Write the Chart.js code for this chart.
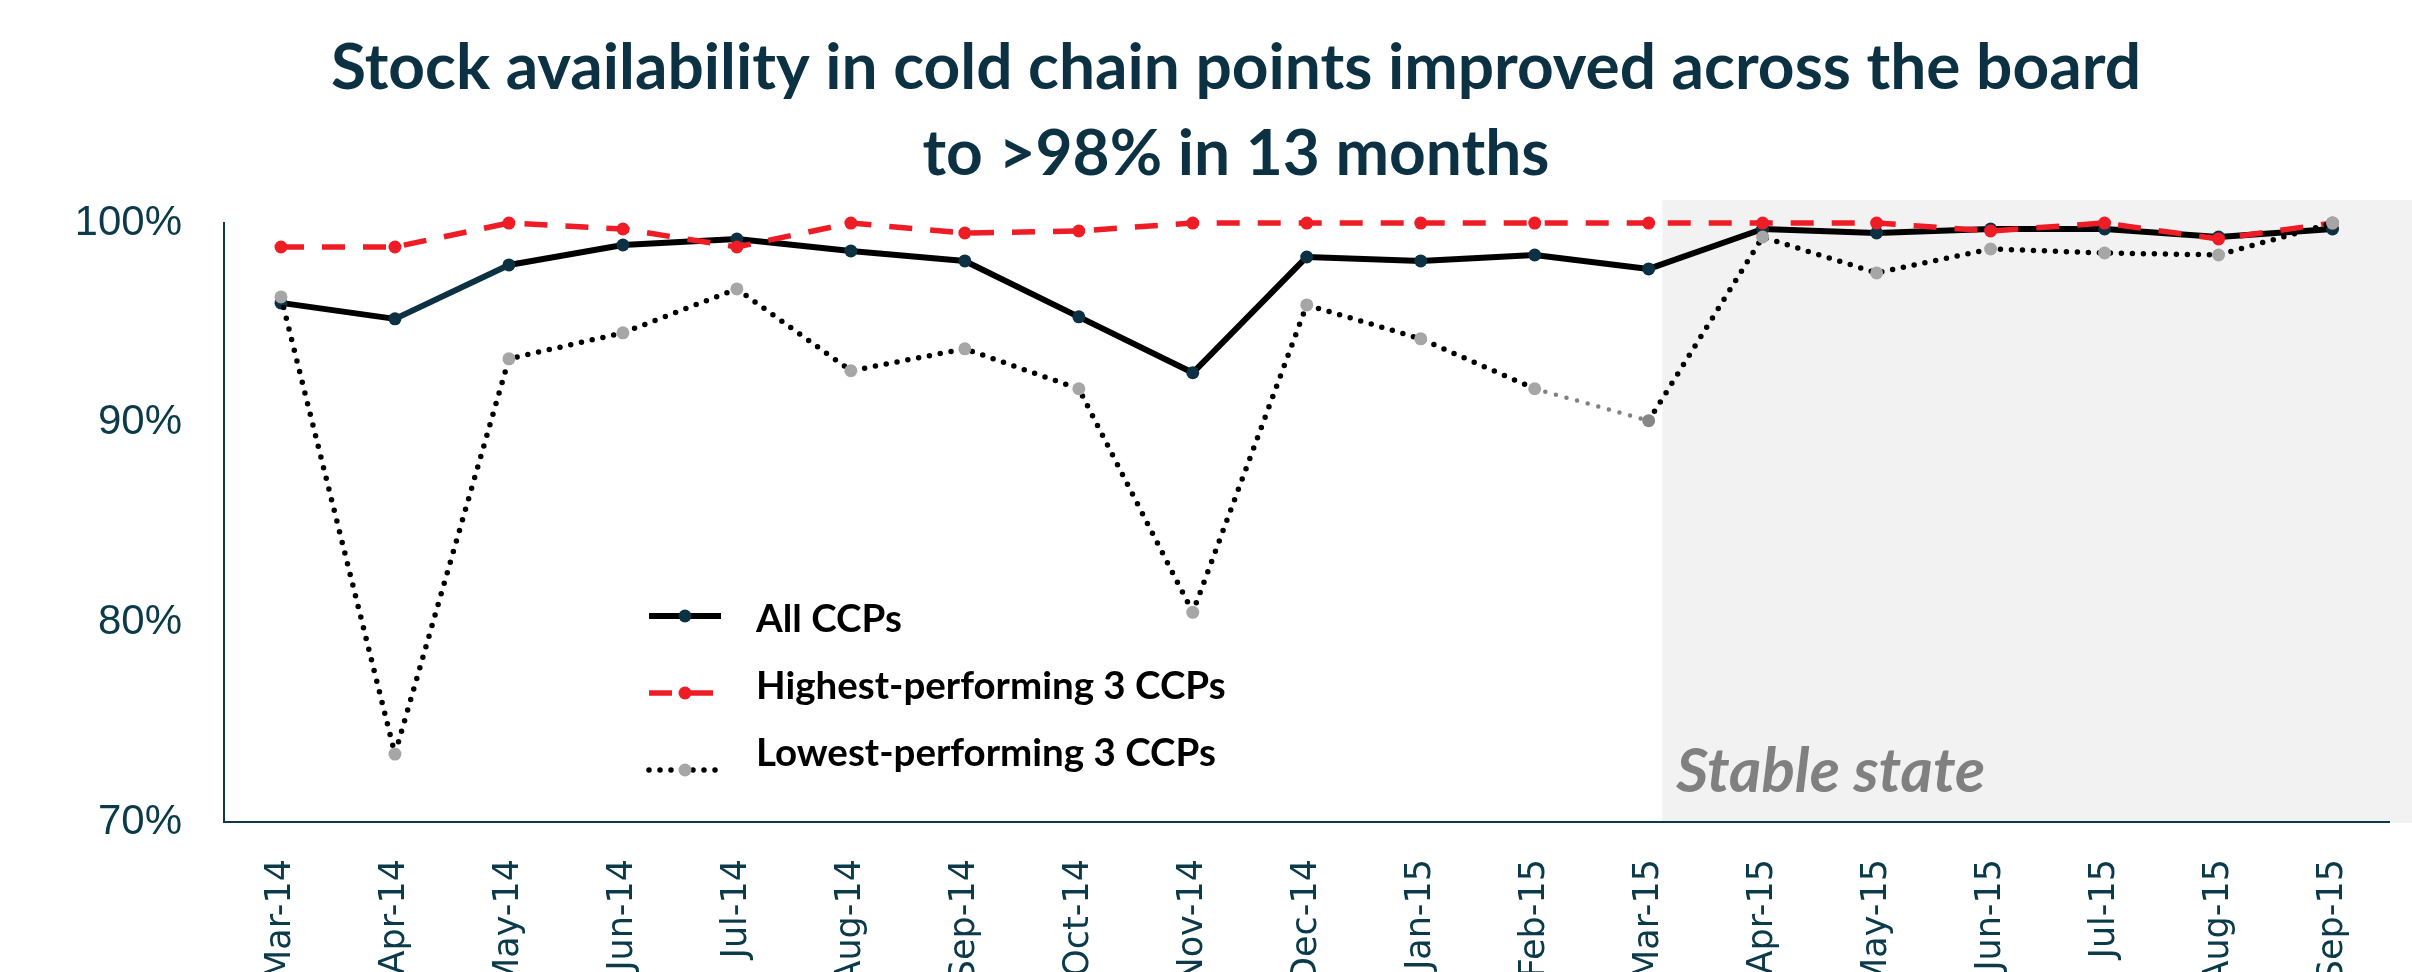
<!DOCTYPE html>
<html>
<head>
<meta charset="utf-8">
<title>Stock availability in cold chain points</title>
<script src="https://cdn.jsdelivr.net/npm/chart.js@4.4.0/dist/chart.umd.min.js"></script>
<style>
  html, body { margin: 0; padding: 0; background: #fff; overflow: hidden; }
  #wrap { width: 2412px; height: 972px; }
</style>
</head>
<body>
<div id="wrap"><canvas id="ccp-chart" width="2412" height="972"></canvas></div>
<script>
(function () {
    'use strict';

    // --- data ---
    const months = ['Mar-14','Apr-14','May-14','Jun-14','Jul-14','Aug-14','Sep-14','Oct-14','Nov-14','Dec-14',
                    'Jan-15','Feb-15','Mar-15','Apr-15','May-15','Jun-15','Jul-15','Aug-15','Sep-15'];
    const allCCPs     = [96.0, 95.2, 97.9, 98.9, 99.2, 98.6, 98.1, 95.3, 92.5, 98.3, 98.1, 98.4, 97.7, 99.7, 99.5, 99.7, 99.7, 99.3, 99.7];
    const highestCCPs = [98.8, 98.8, 100,  99.7, 98.8, 100,  99.5, 99.6, 100,  100,  100,  100,  100,  100,  100,  99.6, 100,  99.2, 100];
    const lowestCCPs  = [96.3, 73.4, 93.2, 94.5, 96.7, 92.6, 93.7, 91.7, 80.5, 95.9, 94.2, 91.7, 90.1, 99.3, 97.5, 98.7, 98.5, 98.4, 100];
    const yTickValues = [70, 80, 90, 100];
    const seriesNames = ['All CCPs', 'Highest-performing 3 CCPs', 'Lowest-performing 3 CCPs'];
    const titleLines  = ['Stock availability in cold chain points improved across the board', 'to >98% in 13 months'];
    const bandLabel   = 'Stable state';

    const TEAL = '#0b3142', RED = '#ee1c25', AXIS = '#0b3a4a';

    // grey "stable state" band behind everything
    const stableBand = {
        id: 'stableBand',
        beforeDraw(chart, args, o) {
            const {ctx, chartArea, scales: {x}} = chart;
            const left = x.getPixelForValue(o.from);
            ctx.save();
            ctx.fillStyle = o.color;
            ctx.fillRect(left, chartArea.top - o.above, chart.width - left, chartArea.bottom - chartArea.top + o.above + 1);
            ctx.font = o.font;
            ctx.fillStyle = o.textColor;
            ctx.textBaseline = 'alphabetic';
            ctx.fillText(o.text, left + o.textDx, chartArea.bottom - o.textDy);
            ctx.restore();
        }
    };

    // legend sitting inside the plot, symbol = line + marker
    const inlineLegend = {
        id: 'inlineLegend',
        afterDatasetsDraw(chart, args, o) {
            const ctx = chart.ctx;
            chart.data.datasets.forEach((ds, i) => {
                const ys = o.symbolY + i * o.symbolGap;
                const yt = o.textY + i * o.textGap;
                ctx.save();
                ctx.strokeStyle = ds.borderColor;
                ctx.lineWidth = ds.borderWidth;
                ctx.lineCap = ds.borderCapStyle || 'butt';
                ctx.setLineDash(ds.borderDash || []);
                ctx.beginPath();
                ctx.moveTo(o.x, ys);
                ctx.lineTo(o.x + o.length, ys);
                ctx.stroke();
                ctx.setLineDash([]);
                ctx.fillStyle = Array.isArray(ds.pointBackgroundColor) ? ds.pointBackgroundColor[0] : ds.pointBackgroundColor;
                ctx.beginPath();
                ctx.arc(o.x + o.length / 2, ys, ds.pointRadius, 0, Math.PI * 2);
                ctx.fill();
                ctx.font = o.font;
                ctx.fillStyle = o.color;
                ctx.textBaseline = 'alphabetic';
                ctx.fillText(ds.label, o.textX, yt);
                ctx.restore();
            });
        }
    };

    function draw() {
        new Chart(document.getElementById('ccp-chart'), {
            type: 'line',
            data: {
                labels: months,
                datasets: [
                    {
                        label: seriesNames[0], data: allCCPs, order: 3, clip: false,
                        borderColor: '#000', borderWidth: 6, borderJoinStyle: 'round',
                        pointBackgroundColor: TEAL, pointBorderWidth: 0, pointRadius: 6.5,
                        segment: { borderColor: c => c.p0DataIndex === 1 ? TEAL : undefined }
                    },
                    {
                        label: seriesNames[1], data: highestCCPs, order: 2, clip: false,
                        borderColor: RED, borderWidth: 5.5, borderDash: [23, 18],
                        pointBackgroundColor: RED, pointBorderWidth: 0, pointRadius: 6.5
                    },
                    {
                        label: seriesNames[2], data: lowestCCPs, order: 1, clip: false,
                        borderColor: '#000', borderWidth: 5.5, borderDash: [0, 11], borderCapStyle: 'round',
                        pointBackgroundColor: lowestCCPs.map((v, i) => i === 12 ? '#868686' : '#a6a6a6'),
                        pointBorderWidth: 0, pointRadius: 6.5,
                        segment: {
                            borderColor: c => c.p0DataIndex === 11 ? '#808080' : undefined,
                            borderWidth: c => c.p0DataIndex === 11 ? 4.5 : undefined
                        }
                    }
                ]
            },
            options: {
                responsive: false, animation: false, devicePixelRatio: 1,
                layout: { padding: { left: 78, right: 18, top: 0, bottom: 0 } },
                plugins: {
                    legend: { display: false },
                    tooltip: { enabled: false },
                    title: {
                        display: true, text: titleLines, color: TEAL,
                        font: { family: 'Lato', weight: 'bold', size: 64, lineHeight: 1.344 },
                        padding: { top: 25, bottom: 26 }
                    },
                    stableBand: {
                        from: 12.12, above: 23, color: '#f2f2f2',
                        text: bandLabel, textColor: '#808080', textDx: 14, textDy: 30,
                        font: 'italic bold 62px Lato'
                    },
                    inlineLegend: {
                        x: 649, length: 72, symbolY: 616, symbolGap: 77,
                        textX: 756, textY: 632, textGap: 67,
                        font: 'bold 38.5px Lato', color: '#000'
                    }
                },
                scales: {
                    x: {
                        offset: true,
                        grid: { display: false, drawTicks: false },
                        border: { display: true, color: AXIS, width: 2 },
                        ticks: {
                            autoSkip: false, minRotation: 90, maxRotation: 90, padding: 37,
                            color: AXIS, font: { family: 'DejaVu Sans', size: 35 }
                        },
                        afterFit(scale) { scale.height = 150; }
                    },
                    y: {
                        min: 70, max: 100,
                        grid: { display: false, drawTicks: false },
                        border: { display: true, color: AXIS, width: 2 },
                        afterBuildTicks(scale) { scale.ticks = yTickValues.map(v => ({ value: v })); },
                        ticks: {
                            padding: 42, color: AXIS,
                            font: { family: 'Liberation Sans', size: 42 },
                            callback: v => v + '%'
                        },
                        afterFit(scale) { scale.width = 146; }
                    }
                }
            },
            plugins: [stableBand, inlineLegend]
        });
    }

    const fonts = ['bold 64px Lato', 'italic bold 62px Lato', 'bold 38.5px Lato', '35px "DejaVu Sans"', '42px "Liberation Sans"'];
    Promise.all(fonts.map(f => document.fonts.load(f))).then(draw, draw);
})();
</script>
</body>
</html>
